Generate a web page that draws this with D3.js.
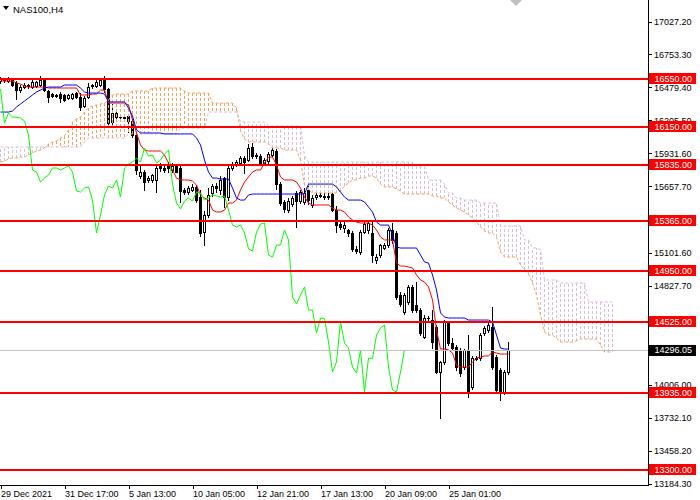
<!DOCTYPE html>
<html><head><meta charset="utf-8">
<script src="https://cdn.jsdelivr.net/npm/d3@7"></script>
<style>
html,body{margin:0;padding:0;background:#fff;}
svg{display:block;font-family:"Liberation Sans",Arial,sans-serif;}
</style></head><body>
<svg id="c" width="700" height="500"></svg>
<script>
// ---------- DATA (NAS100, H4) ----------
const symbolTitle = "NAS100,H4";
const timeLabels = ["29 Dec 2021","31 Dec 17:00","5 Jan 13:00","10 Jan 05:00","12 Jan 21:00","17 Jan 13:00","20 Jan 09:00","25 Jan 01:00"];
const timeTickBars = [0,16,32,48,64,80,96,112];
const priceTicks = [17027.2,16753.3,16479.4,16205.5,15931.6,15657.7,15101.6,14827.7,14553.8,14006.0,13732.1,13458.2,13184.3];
const levels = [16550,16150,15835,15365,14950,14525,13935,13300];
const bidPrice = 14296.05;

const openP = [
16532,16549,16532,16541,16516,16457,16482,16499,16482,16491,
16499,16549,16449,16424,16416,16424,16416,16391,16391,16432,
16399,16324,16399,16491,16491,16499,16549,16466,16191,16266,
16233,16233,16241,16199,16083,15742,15775,15709,15709,15709,
15833,15809,15833,15792,15825,15809,15626,15609,15626,15651,
15567,15276,15418,15601,15659,15626,15725,15567,15809,15842,
15850,15892,15875,15983,15908,15908,15850,15867,15917,15950,
15675,15526,15459,15509,15601,15534,15526,15626,15501,15567,
15584,15576,15567,15592,15459,15343,15310,15293,15268,15135,
15110,15276,15293,15268,15043,15085,15143,15168,15293,15268,
14752,14611,14694,14819,14669,14627,14403,14561,14544,14486,
14112,14195,14519,14353,14320,14295,14153,14295,13987,14228,
14228,14436,14461,14486,14236,14128,13946,14112];
const highP = [
16565,16557,16565,16557,16532,16499,16516,16507,16549,16532,
16574,16557,16457,16432,16424,16441,16424,16424,16432,16441,
16432,16407,16516,16507,16541,16549,16574,16474,16341,16291,
16258,16249,16258,16224,16100,15825,15792,15742,15759,15825,
15850,15833,15858,15850,15842,15825,15642,15659,15675,15667,
15626,15451,15642,15675,15684,15742,15734,15833,15858,15875,
15908,15908,16008,16017,15933,15925,15892,15942,15975,15967,
15692,15542,15559,15576,15617,15626,15642,15659,15584,15601,
15609,15601,15601,15626,15493,15359,15359,15301,15285,15160,
15293,15359,15376,15359,15093,15176,15185,15310,15351,15285,
14777,14769,14835,14835,14860,14644,14586,14578,14627,14503,
14203,14544,14536,14394,14336,14311,14303,14419,14245,14245,
14436,14494,14519,14652,14253,14145,14128,14361];
const lowP = [
16516,16524,16524,16491,16383,16441,16474,16474,16474,16482,
16491,16449,16358,16399,16399,16358,16366,16383,16383,16391,
16291,16316,16391,16474,16482,16491,16441,16158,16174,16208,
16208,16199,16108,16066,15759,15725,15626,15692,15692,15609,
15784,15775,15775,15775,15775,15526,15592,15592,15617,15526,
15243,15168,15401,15576,15609,15592,15484,15542,15792,15825,
15833,15767,15867,15892,15892,15842,15842,15850,15908,15634,
15501,15443,15443,15493,15318,15517,15509,15509,15484,15551,
15567,15551,15551,15451,15276,15301,15276,15243,15118,15102,
15093,15268,15268,15027,15018,15068,15135,15151,15185,14719,
14661,14594,14677,14611,14611,14419,14394,14544,14311,14103,
13729,14178,14336,14295,14128,14078,14137,13904,13970,14211,
14211,14419,14444,14137,13946,13879,13929,14095];
const closeP = [
16549,16541,16549,16499,16457,16482,16499,16491,16524,16524,
16541,16457,16399,16407,16407,16391,16374,16416,16424,16399,
16316,16391,16482,16499,16524,16541,16466,16183,16266,16233,
16230,16224,16199,16083,15792,15775,15692,15725,15750,15809,
15809,15792,15809,15825,15775,15617,15609,15642,15651,15542,
15268,15418,15584,15659,15642,15709,15567,15809,15842,15858,
15892,15858,15975,15908,15917,15850,15875,15925,15958,15675,
15517,15468,15534,15559,15534,15609,15601,15542,15559,15584,
15576,15567,15576,15459,15334,15318,15334,15268,15135,15118,
15276,15343,15351,15085,15068,15168,15168,15293,15210,14735,
14677,14752,14819,14627,14627,14436,14561,14557,14361,14112,
14195,14528,14353,14311,14153,14103,14295,13945,14228,14224,
14419,14478,14503,14153,13962,13946,14112,14296.05];

// Ichimoku lines
const tenkan = [
16532,16532,16532,16532,16516,16507,16491,16482,16482,16482,
16482,16482,16474,16474,16474,16474,16474,16474,16474,16474,
16416,16416,16416,16424,16424,16457,16457,16349,16349,16349,
16349,16349,16332,16208,16100,16000,15958,15950,15950,15950,
15950,15917,15850,15792,15725,15709,15709,15709,15700,15667,
15584,15559,15542,15459,15443,15443,15459,15517,15517,15542,
15626,15692,15734,15775,15792,15792,15850,15900,15900,15833,
15734,15709,15709,15709,15692,15642,15567,15517,15501,15501,
15501,15501,15501,15476,15459,15459,15443,15401,15376,15359,
15351,15351,15351,15334,15293,15235,15210,15210,15210,15018,
14993,14993,14985,14977,14919,14877,14860,14819,14711,14461,
14303,14303,14295,14270,14170,14153,14153,14153,14195,14228,
14236,14245,14245,14278,14270,14261,14261,14261];
const kijun = [
16274,16274,16274,16283,16316,16341,16366,16391,16416,16441,
16457,16474,16482,16482,16482,16482,16499,16499,16499,16499,
16474,16441,16432,16432,16432,16432,16424,16358,16358,16358,
16358,16358,16308,16241,16125,16100,16100,16100,16100,16100,
16100,16092,16092,16092,16092,16092,16092,16092,16092,16058,
16000,15875,15775,15725,15725,15717,15717,15717,15642,15559,
15542,15542,15584,15592,15592,15592,15592,15592,15592,15592,
15592,15592,15592,15592,15592,15592,15592,15675,15675,15675,
15675,15675,15675,15675,15651,15609,15567,15542,15542,15542,
15542,15526,15484,15443,15359,15334,15334,15334,15251,15151,
15143,15143,15143,15143,15143,15085,15027,15018,14919,14794,
14603,14569,14561,14561,14561,14561,14561,14544,14544,14544,
14544,14544,14544,14528,14419,14311,14303,14303];
const senkouA = [
15858,15867,15883,15892,15892,15900,15900,15917,15933,15950,
15958,15975,16008,16025,16033,16058,16075,16125,16191,16216,
16233,16274,16308,16324,16332,16341,16349,16374,16416,16424,
16424,16424,16424,16449,16449,16449,16449,16449,16474,16474,
16474,16474,16474,16474,16474,16474,16449,16432,16432,16432,
16432,16432,16432,16349,16349,16349,16349,16349,16349,16308,
16116,16050,16025,16025,16025,16025,16025,16008,15975,15975,
15975,15958,15958,15958,15958,15875,15667,15626,15601,15601,
15601,15601,15601,15601,15601,15617,15659,15684,15709,15709,
15725,15725,15742,15742,15725,15675,15651,15651,15651,15634,
15617,15592,15592,15592,15592,15592,15592,15592,15576,15576,
15559,15559,15526,15501,15476,15459,15443,15418,15393,15359,
15318,15285,15268,15268,15235,15110,15068,15068,15068,15068,
15002,14960,14927,14852,14752,14586,14444,14419,14419,14394,
14361,14361,14361,14361,14370,14386,14386,14386,14386,14386,
14336,14278,14278,14278];
const senkouB = [
15983,15983,15983,15983,15983,15983,15983,15983,15983,15983,
15983,15983,15983,15983,15983,15983,15983,15983,15983,15983,
15983,16025,16058,16058,16058,16058,16058,16058,16058,16058,
16058,16058,16092,16092,16092,16092,16092,16092,16092,16092,
16092,16092,16092,16092,16092,16141,16141,16141,16141,16141,
16141,16141,16274,16274,16274,16274,16274,16274,16274,16274,
16191,16191,16191,16191,16191,16191,16191,16158,16158,16158,
16158,16158,16158,16158,16158,16158,15908,15858,15858,15858,
15858,15858,15858,15858,15858,15858,15858,15858,15858,15858,
15858,15858,15858,15858,15858,15858,15858,15858,15858,15858,
15858,15858,15858,15858,15817,15817,15817,15709,15709,15709,
15709,15675,15601,15601,15559,15559,15542,15542,15542,15542,
15517,15517,15517,15517,15517,15326,15326,15326,15326,15326,
15326,15210,15210,15143,15143,15127,14877,14877,14877,14877,
14852,14852,14852,14852,14852,14852,14852,14694,14694,14694,
14694,14694,14694,14694];
const chikouShift = 26;

// ---------- DRAWING ----------
const svg = d3.select("#c");
const plotRight = 648;
const axisY = 485;
const x = d3.scaleLinear().domain([0, 161]).range([0.5, 644.5]);
const y = d3.scaleLinear().domain([13184.3, 17027.2]).range([483.5, 21.5]);
const py = v => Math.round(y(v));

const plot = svg.append("g");
plot.append("clipPath").attr("id","clip").append("rect").attr("x",0).attr("y",0).attr("width",plotRight).attr("height",axisY);
const g = plot.append("g").attr("clip-path","url(#clip)");

// candles
const candles = g.append("g").attr("shape-rendering","crispEdges");
closeP.forEach((c,i) => {
  const o = openP[i], h = highP[i], l = lowP[i];
  const cx = x(i);
  candles.append("line").attr("x1",cx).attr("x2",cx)
    .attr("y1",py(h)).attr("y2",py(l)+1).attr("stroke","#000").attr("stroke-width",1);
  const top = Math.min(py(o),py(c)), bot = Math.max(py(o),py(c));
  if (c < o) {
    candles.append("rect").attr("x",cx-1.5).attr("y",top).attr("width",3).attr("height",Math.max(1,bot-top+1)).attr("fill","#000");
  } else if (bot - top < 1) {
    candles.append("rect").attr("x",cx-1.5).attr("y",top).attr("width",3).attr("height",1).attr("fill","#000");
  } else {
    candles.append("rect").attr("x",cx-1).attr("y",top+0.5).attr("width",2).attr("height",bot-top)
      .attr("fill","#fff").attr("stroke","#000").attr("stroke-width",1);
  }
});

// cloud hatch
const hatch = g.append("g").attr("shape-rendering","crispEdges");
senkouA.forEach((a,i) => {
  const b = senkouB[i];
  hatch.append("line").attr("x1",x(i)).attr("x2",x(i))
    .attr("y1",y(a)).attr("y2",y(b))
    .attr("stroke", a >= b ? "#F4A460" : "#D8BFD8").attr("stroke-width",1)
    .attr("stroke-dasharray","3,2");
});
const line = d3.line().x((d,i)=>x(i)).y(d=>y(d));
g.append("path").datum(senkouA).attr("d",line).attr("fill","none").attr("stroke","#F4A460").attr("stroke-width",1).attr("stroke-dasharray","3,2");
g.append("path").datum(senkouB).attr("d",line).attr("fill","none").attr("stroke","#D8BFD8").attr("stroke-width",1).attr("stroke-dasharray","3,2");

// tenkan, kijun, chikou
g.append("path").datum(tenkan).attr("d",line).attr("fill","none").attr("stroke","#FF0000").attr("stroke-width",1);
g.append("path").datum(kijun).attr("d",line).attr("fill","none").attr("stroke","#0000FF").attr("stroke-width",1);
const chikou = closeP.slice(chikouShift);
g.append("path").datum(chikou).attr("d",line).attr("fill","none").attr("stroke","#00FF00").attr("stroke-width",1);

// bid line
svg.append("line").attr("x1",0).attr("x2",plotRight).attr("y1",py(bidPrice)+0.5).attr("y2",py(bidPrice)+0.5)
  .attr("stroke","#C0C0C0").attr("stroke-width",1).attr("shape-rendering","crispEdges");

// horizontal levels
levels.forEach(v => {
  svg.append("rect").attr("x",0).attr("y",py(v)-1).attr("width",plotRight).attr("height",2).attr("fill","#FF0000").attr("shape-rendering","crispEdges");
});

// axes frame
svg.append("line").attr("x1",plotRight+0.5).attr("x2",plotRight+0.5).attr("y1",0).attr("y2",axisY+1).attr("stroke","#000").attr("shape-rendering","crispEdges");
svg.append("line").attr("x1",0).attr("x2",plotRight+1).attr("y1",axisY+0.5).attr("y2",axisY+0.5).attr("stroke","#000").attr("shape-rendering","crispEdges");

// right price axis
const ya = svg.append("g").attr("transform",`translate(${plotRight},0)`)
  .call(d3.axisRight(y).tickValues(priceTicks).tickSize(4).tickPadding(2).tickSizeOuter(0).tickFormat(d3.format(".2f")));
ya.select(".domain").remove();
ya.selectAll("text").attr("font-size",9).attr("font-family","Liberation Sans, Arial, sans-serif").attr("fill","#000");
ya.selectAll("line").attr("shape-rendering","crispEdges");

// bottom time axis
const xa = svg.append("g").attr("transform",`translate(0,${axisY})`)
  .call(d3.axisBottom(x).tickValues(timeTickBars).tickSize(4).tickPadding(2).tickSizeOuter(0).tickFormat((d,i)=>timeLabels[i]));
xa.select(".domain").remove();
xa.selectAll("text").attr("font-size",9).attr("font-family","Liberation Sans, Arial, sans-serif").attr("fill","#000").attr("text-anchor","start");
xa.selectAll("line").attr("shape-rendering","crispEdges");

// level labels
levels.forEach(v => {
  const yy = py(v);
  svg.append("rect").attr("x",649).attr("y",yy-6).attr("width",47).attr("height",11).attr("fill","#FF0000");
  svg.append("text").attr("x",654.5).attr("y",yy).attr("dy","0.32em").attr("font-size",9).attr("fill","#fff").text(d3.format(".2f")(v));
});
// bid label
{
  const yy = py(bidPrice);
  svg.append("rect").attr("x",649).attr("y",yy-5).attr("width",47).attr("height",11).attr("fill","#000");
  svg.append("text").attr("x",654.5).attr("y",yy+0.5).attr("dy","0.32em").attr("font-size",9).attr("fill","#fff").text(d3.format(".2f")(bidPrice));
}

// title
svg.append("path").attr("d","M3,6 L9,6 L6,10 Z").attr("fill","#000");
svg.append("text").attr("x",13).attr("y",12.5).attr("font-size",9.5).attr("fill","#000").text(symbolTitle);
// chart shift marker
svg.append("path").attr("d","M510,0 L522,0 L516,6 Z").attr("fill","#C0C0C0");
</script>
</body></html>
